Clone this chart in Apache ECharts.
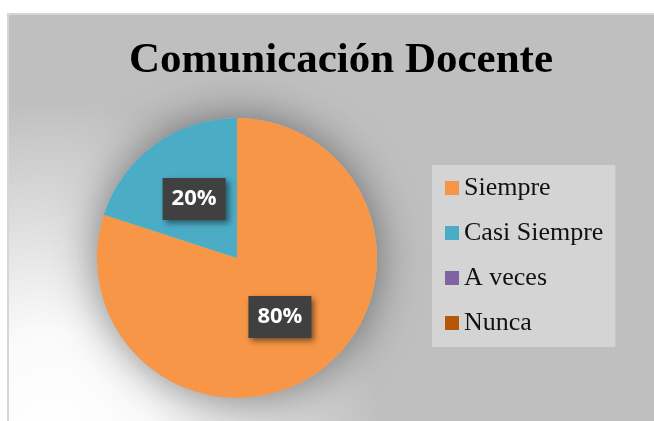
<!DOCTYPE html>
<html>
<head>
<meta charset="utf-8">
<script src="https://cdn.jsdelivr.net/npm/echarts@6/dist/echarts.min.js"></script>
<style>
  html, body { margin: 0; padding: 0; background: #fff; }
  #chart { width: 654px; height: 421px; }
</style>
</head>
<body>
<div id="chart"></div>
<script>
const title = 'Comunicación Docente';
const categories = ['Siempre', 'Casi Siempre', 'A veces', 'Nunca'];
const values = [80, 20, 0, 0];
const colors = ['#F79646', '#4BACC6', '#8064A2', '#B65708'];

const pieCenter = [237, 258];
const pieRadius = 140;

const chartDom = document.getElementById('chart');
const myChart = echarts.init(chartDom);

const total = values.reduce((a, b) => a + b, 0);

const option = {
  backgroundColor: '#fff',
  animation: false,
  color: colors,
  graphic: [
    {
      type: 'rect',
      z: -10,
      silent: true,
      shape: { x: 8, y: 14, width: 700, height: 480 },
      style: {
        fill: new echarts.graphic.RadialGradient(50, 430, 330, [
          { offset: 0, color: '#ffffff' },
          { offset: 0.3, color: '#fafafa' },
          { offset: 1, color: '#bfbfbf' }
        ], true),
        stroke: '#d6d6d6',
        lineWidth: 2
      }
    }
  ],
  title: {
    text: title,
    left: 336,
    top: 34,
    textAlign: 'center',
    textStyle: {
      fontFamily: 'Liberation Serif',
      fontWeight: 'bold',
      fontSize: 43,
      color: '#000'
    }
  },
  legend: {
    orient: 'vertical',
    left: 432,
    top: 165,
    data: categories,
    icon: 'rect',
    itemWidth: 14,
    itemHeight: 14,
    itemGap: 19,
    padding: [10, 12, 11, 13],
    backgroundColor: '#d4d4d4',
    selectedMode: false,
    textStyle: {
      fontFamily: 'Liberation Serif',
      fontSize: 26,
      lineHeight: 26,
      color: '#111'
    }
  },
  series: [
    {
      // backdrop disc only used to cast the soft shadow behind the pie
      type: 'pie',
      center: pieCenter,
      radius: pieRadius,
      silent: true,
      z: 1,
      label: { show: false },
      labelLine: { show: false },
      itemStyle: {
        color: '#bfbfbf',
        shadowBlur: 45,
        shadowColor: 'rgba(0,0,0,0.45)'
      },
      data: [{ value: total, name: 'backdrop' }]
    },
    {
      type: 'pie',
      center: pieCenter,
      radius: pieRadius,
      startAngle: 90,
      z: 2,
      emphasis: { disabled: true },
      itemStyle: { borderWidth: 0 },
      labelLine: { show: false },
      label: {
        show: true,
        position: 'inside',
        formatter: '{d}%',
        color: '#fff',
        fontFamily: 'Open Sans',
        fontWeight: 'bold',
        fontSize: 22,
        lineHeight: 22,
        backgroundColor: '#404040',
        padding: [10, 9],
        shadowBlur: 6,
        shadowOffsetX: 3,
        shadowOffsetY: 3,
        shadowColor: 'rgba(0,0,0,0.5)'
      },
      data: categories.map((name, i) => ({
        name: name,
        value: values[i],
        label: { show: values[i] > 0 }
      }))
    }
  ]
};

option && myChart.setOption(option);
</script>
</body>
</html>
